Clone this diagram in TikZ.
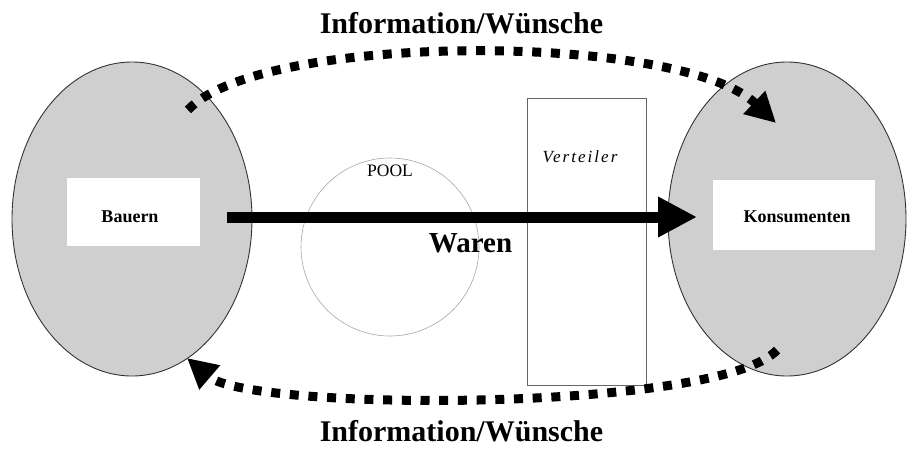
\documentclass[tikz,border=0pt]{standalone}
\usepackage{fontspec}
\setmainfont{Liberation Serif}
\usetikzlibrary{arrows.meta,shapes.geometric}
\begin{document}
\begin{tikzpicture}[x=1pt,y=-1pt,
  party/.style={ellipse,draw=black!80,line width=0.9pt,fill=black!19,inner sep=0pt},
  whitebox/.style={rectangle,fill=white,draw=none,inner sep=0pt},
  lbl/.style={anchor=base,inner sep=0pt},
  titlefont/.style={font=\fontsize{30}{32}\selectfont\bfseries},
  warenfont/.style={font=\fontsize{29}{31}\selectfont\bfseries},
  boxfont/.style={font=\fontsize{18}{20}\selectfont\bfseries},
  infoflow/.style={line width=9pt,line cap=butt,dash pattern=on 9pt off 9.7pt,
     -{Triangle[length=30pt,width=30pt]}},
  goods/.style={line width=11pt,-{Triangle[length=39pt,width=38pt]}}
]
\useasboundingbox (0,0) rectangle (912,448);
% parties
\node[party,minimum width=240pt,minimum height=314pt] (bauernE) at (132,219) {};
\node[party,minimum width=238pt,minimum height=314pt] (konsE) at (787,219) {};
% pool and distributor
\node[circle,draw=black!35,line width=0.6pt,minimum size=178pt,inner sep=0pt] (pool) at (390,247) {};
\node[rectangle,draw=black!60,line width=0.8pt,minimum width=119pt,minimum height=287pt,inner sep=0pt] (vert) at (586.5,241.5) {};
% white boxes
\node[whitebox,minimum width=133pt,minimum height=68pt] (bauern) at (133.5,212) {};
\node[whitebox,minimum width=162pt,minimum height=70pt] (kons) at (794,215) {};
% goods arrow
\coordinate (wstart) at (227,217);
\coordinate (wend) at (697,217);
\draw[goods] (wstart) -- (wend);
% information flows
\coordinate (t1) at (188,110);
\coordinate (t2) at (776,123);
\coordinate (b1) at (777,350);
\coordinate (b2) at (187,358);
\draw[infoflow] (t1) .. controls (260,32) and (680,32) .. (t2);
\draw[infoflow] (b1) .. controls (720,412) and (250,412) .. (b2);
% texts
\node[lbl,titlefont] (ttop) at (461.5,33) {Information/Wünsche};
\node[lbl,titlefont] (tbot) at (461.5,441) {Information/Wünsche};
\node[lbl,warenfont] (waren) at (470.5,252) {Waren};
\node[lbl,boxfont] (tb) at (130,222) {Bauern};
\node[lbl,boxfont] (tk) at (797,222) {Konsumenten};
\node[lbl,font=\fontsize{17.5}{19}\selectfont] (tp) at (390,176) {POOL};
\node[lbl,font=\fontsize{17}{19}\selectfont\itshape\addfontfeature{LetterSpace=12}] (tv) at (580,162) {Verteiler};
\end{tikzpicture}
\end{document}
